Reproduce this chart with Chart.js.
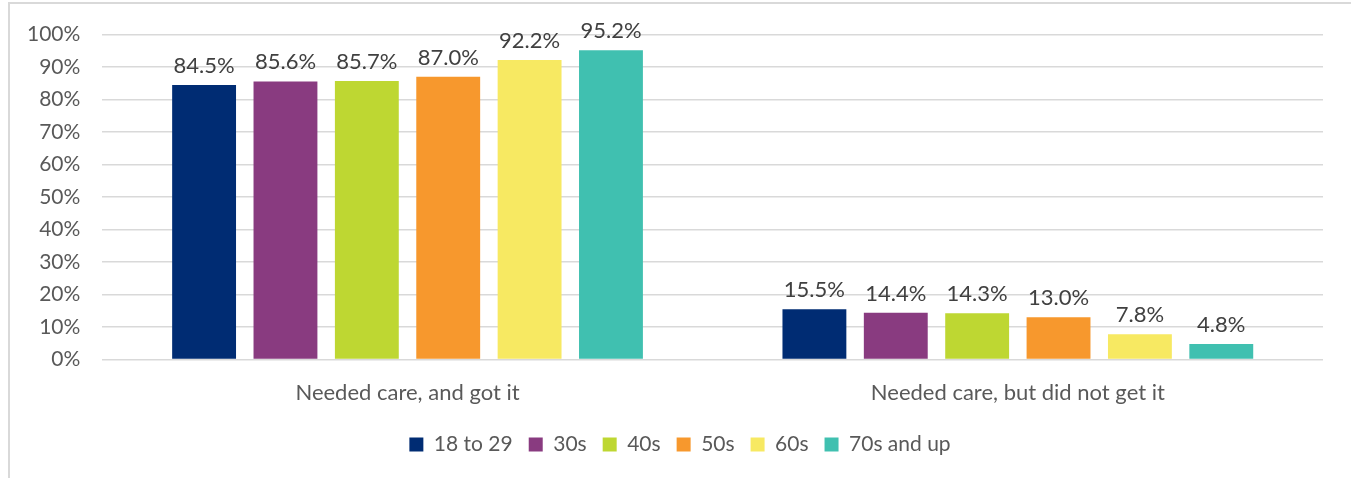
<!DOCTYPE html>
<html>
<head>
<meta charset="utf-8">
<script src="https://cdn.jsdelivr.net/npm/chart.js@4.4.1/dist/chart.umd.min.js"></script>
<style>
  html, body { margin: 0; padding: 0; background: #fff; }
  #wrap { width: 1351px; height: 478px; position: relative; }
</style>
</head>
<body>
<div id="wrap"><canvas id="careChart"></canvas></div>
<script>
var categories = ['Needed care, and got it', 'Needed care, but did not get it'];
var ageGroups = ['18 to 29', '30s', '40s', '50s', '60s', '70s and up'];
var gotCare = [84.5, 85.6, 85.7, 87.0, 92.2, 95.2];
var didNotGetCare = [15.5, 14.4, 14.3, 13.0, 7.8, 4.8];
var barColors = ['#002C73', '#893B80', '#BED732', '#F7982D', '#F7E962', '#40C0B0'];

var fontFamily = 'Lato, "Open Sans", sans-serif';

// frame around the chart area like the original export
var framePlugin = {
    id: 'frame',
    beforeDraw: function(chart) {
        var c = chart.ctx;
        c.save();
        c.strokeStyle = '#d9d9d9';
        c.lineWidth = 2;
        c.strokeRect(9, 3, 1400, 500);
        c.restore();
    }
};

// legend sits centred on the whole picture, not on the padded box
var legendShift = {
    id: 'legendShift',
    afterLayout: function(chart) {
        chart.legend.left += 16;
        chart.legend.right += 16;
    }
};

// value labels over each bar
var valueLabels = {
    id: 'valueLabels',
    afterDatasetsDraw: function(chart) {
        var c = chart.ctx;
        c.save();
        c.font = '22px ' + fontFamily;
        c.fillStyle = '#404040';
        c.textAlign = 'center';
        c.textBaseline = 'bottom';
        chart.data.datasets.forEach(function(ds, i) {
            chart.getDatasetMeta(i).data.forEach(function(bar, j) {
                c.fillText(ds.data[j].toFixed(1) + '%', bar.x, bar.y - 8);
            });
        });
        c.restore();
    }
};

var datasets = ageGroups.map(function(name, i) {
    return {
        label: name,
        data: [gotCare[i], didNotGetCare[i]],
        backgroundColor: barColors[i],
        borderWidth: 0
    };
});

var ctx = document.getElementById('careChart').getContext('2d');

new Chart(ctx, {
    type: 'bar',
    data: {
        labels: categories,
        datasets: datasets
    },
    plugins: [framePlugin, legendShift, valueLabels],
    options: {
        responsive: true,
        maintainAspectRatio: false,
        animation: false,
        categoryPercentage: 0.8,
        barPercentage: 0.785,
        layout: {
            padding: { left: 5, right: 28, top: 11, bottom: 13 }
        },
        plugins: {
            tooltip: { enabled: false },
            legend: {
                position: 'bottom',
                labels: {
                    font: { family: fontFamily, size: 21 },
                    color: '#595959',
                    boxWidth: 14,
                    boxHeight: 14,
                    padding: 16
                }
            }
        },
        scales: {
            y: {
                min: 0,
                max: 100,
                ticks: {
                    stepSize: 10,
                    padding: 22,
                    color: '#595959',
                    font: { family: fontFamily, size: 21 },
                    callback: function(value) {
                        return value + '%';
                    }
                },
                grid: {
                    color: '#d9d9d9',
                    lineWidth: 1.5,
                    drawTicks: false
                },
                border: { display: false }
            },
            x: {
                grid: { display: false },
                border: { display: false },
                ticks: {
                    padding: 12,
                    color: '#595959',
                    font: { family: fontFamily, size: 22 }
                }
            }
        }
    }
});
</script>
</body>
</html>
